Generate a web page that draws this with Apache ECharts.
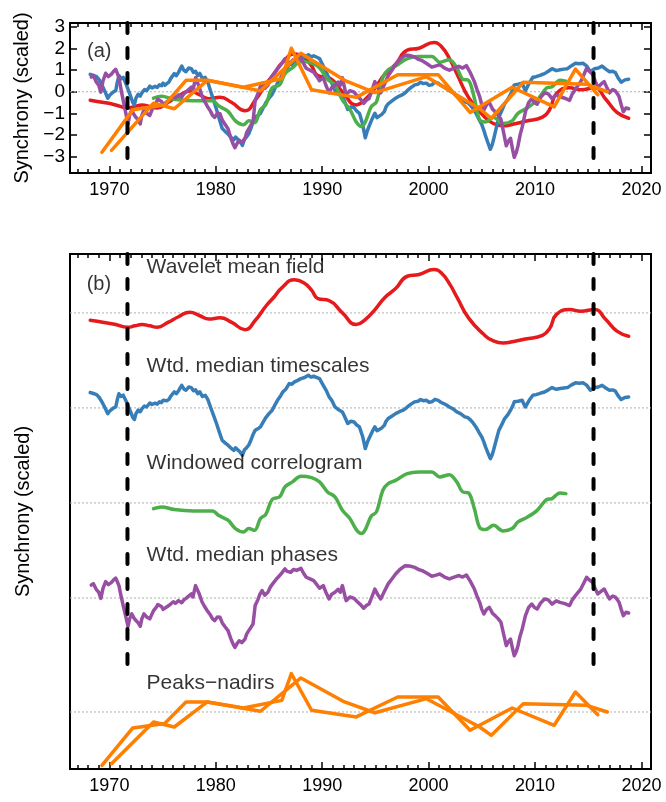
<!DOCTYPE html>
<html><head><meta charset="utf-8">
<script src="https://cdn.jsdelivr.net/npm/echarts@6/dist/echarts.min.js"></script>
<style>html,body{margin:0;padding:0;background:#fff}#c{width:666px;height:802px}</style>
</head><body><div id="c"></div>
<script>
// ---------------- data ----------------
const seriesNames = ['Wavelet mean field','Wtd. median timescales','Windowed correlogram','Wtd. median phases','Peaks\u2212nadirs'];
const xTickLabels = [1970,1980,1990,2000,2010,2020];
const yTickLabelsA = [-3,-2,-1,0,1,2,3];
const refYears = [1971.7, 2015.5];

const redYears = [1968.2,1969.5,1970.5,1971.74,1972.4,1973.07,1973.8,1974.5,1975.5,1976.5,1977.56,1978.5,1979.35,1980.4,1981.5,1982.75,1983.7,1984.7,1985.5,1986.2,1987.4,1988.3,1989.0,1989.6,1990.65,1991.9,1993.2,1994.05,1995.0,1995.85,1996.9,1998.0,1999.1,2000.5,2001.2,2002.0,2002.7,2003.75,2005.2,2006.0,2007.0,2008.0,2009.1,2010.7,2011.4,2012.0,2013.25,2014.3,2015.6,2016.65,2017.7,2018.8];
const redValues = [-0.39,-0.5,-0.6,-0.75,-0.68,-0.61,-0.68,-0.75,-0.5,-0.2,0.04,-0.15,-0.32,-0.26,-0.5,-0.88,-0.4,0.35,0.85,1.32,1.75,1.58,1.2,0.75,0.65,0,-0.61,-0.35,0.2,0.79,1.28,1.93,2.02,2.28,2.1,1.5,0.79,-0.26,-1.14,-1.45,-1.58,-1.5,-1.37,-1.18,-0.8,-0.09,0.18,0.09,0.18,-0.35,-0.96,-1.23];

const blueYears = [1968.2,1968.5,1968.8,1969.05,1969.3,1969.55,1969.85,1970.05,1970.2,1970.4,1970.6,1970.75,1970.9,1971.1,1971.3,1971.45,1971.6,1971.8,1972.0,1972.2,1972.35,1972.5,1972.7,1972.9,1973.07,1973.3,1973.5,1973.8,1974.0,1974.3,1974.5,1974.7,1974.9,1975.05,1975.2,1975.4,1975.6,1975.76,1975.9,1976.1,1976.3,1976.5,1976.65,1976.8,1977.0,1977.2,1977.45,1977.7,1977.9,1978.1,1978.3,1978.5,1978.75,1979.0,1979.25,1979.5,1979.8,1980.07,1980.35,1980.6,1980.9,1981.15,1981.4,1981.7,1981.85,1982.0,1982.25,1982.5,1982.7,1982.9,1983.1,1983.3,1983.5,1983.7,1983.95,1984.2,1984.45,1984.7,1985.0,1985.3,1985.55,1985.8,1986.05,1986.3,1986.6,1986.9,1987.15,1987.4,1987.7,1988.0,1988.35,1988.7,1988.95,1989.2,1989.5,1989.75,1990.1,1990.4,1990.65,1990.9,1991.2,1991.55,1991.9,1992.15,1992.4,1992.7,1993.0,1993.25,1993.5,1993.8,1994.05,1994.25,1994.4,1994.7,1994.95,1995.15,1995.3,1995.6,1995.85,1996.0,1996.2,1996.5,1996.9,1997.25,1997.6,1997.8,1998.0,1998.35,1998.7,1999.0,1999.25,1999.5,1999.8,2000.05,2000.3,2000.6,2000.9,2001.15,2001.4,2001.7,2001.95,2002.3,2002.65,2003.0,2003.4,2003.65,2003.9,2004.2,2004.45,2004.75,2005.0,2005.2,2005.35,2005.6,2005.8,2005.95,2006.1,2006.35,2006.6,2006.9,2007.15,2007.45,2007.7,2007.9,2008.05,2008.4,2008.8,2008.95,2009.1,2009.45,2009.8,2010.1,2010.4,2010.65,2010.9,2011.25,2011.6,2012.0,2012.35,2012.7,2013.05,2013.4,2013.8,2014.15,2014.5,2014.85,2015.2,2015.4,2015.6,2015.95,2016.3,2016.65,2017.0,2017.3,2017.55,2017.8,2018.1,2018.45,2018.8];
const blueValues = [0.81,0.76,0.70,0.55,0.32,0.05,-0.30,-0.15,-0.21,0.0,0.05,0.45,0.75,0.6,0.67,0.5,0.32,0.05,-0.21,-0.5,-0.61,-0.3,-0.12,-0.2,-0.04,0.1,0.05,0.26,0.18,0.25,0.2,0.32,0.28,0.40,0.3,0.38,0.45,0.61,0.55,0.84,0.75,0.9,1.05,1.19,1.0,0.93,1.1,1.07,0.9,0.95,0.75,0.85,0.6,0.67,0.45,0.05,-0.4,-0.82,-1.3,-1.70,-1.85,-1.96,-2.1,-2.23,-2.1,-2.02,-2.3,-2.49,-2.2,-2.09,-1.95,-1.70,-1.4,-1.18,-1.1,-1.0,-0.75,-0.51,-0.3,-0.12,0.15,0.40,0.6,0.84,1.0,1.28,1.25,1.37,1.45,1.54,1.6,1.72,1.62,1.67,1.6,1.54,1.19,0.9,0.58,0.4,0.05,-0.1,-0.21,-0.5,-0.82,-0.7,-0.74,-0.9,-1.0,-1.5,-2.14,-1.8,-1.61,-1.25,-1.0,-1.2,-1.26,-1.05,-0.91,-0.7,-0.56,-0.45,-0.30,-0.2,-0.12,-0.05,0.05,0.2,0.32,0.35,0.44,0.38,0.40,0.3,0.32,0.45,0.40,0.3,0.23,0.15,0.05,-0.05,-0.21,-0.3,-0.47,-0.5,-0.61,-0.8,-1.0,-1.3,-1.53,-1.8,-2.05,-2.4,-2.67,-2.5,-2.23,-1.7,-1.18,-0.85,-0.56,-0.35,-0.12,0.1,0.32,0.35,0.40,0.2,0.05,0.4,0.67,0.7,0.75,0.8,0.84,0.95,1.07,0.98,1.02,1.05,1.07,1.2,1.32,1.3,1.32,1.2,0.93,1.0,1.07,1.1,1.19,1.05,0.93,0.95,0.89,0.65,0.44,0.55,0.58];

const greenYears = [1974.15,1974.9,1976.1,1977.9,1979.7,1980.25,1981.15,1981.85,1982.6,1983.1,1983.65,1984.2,1984.7,1985.3,1986.0,1986.5,1987.2,1988.0,1989.0,1989.75,1990.5,1991.2,1991.9,1992.6,1993.2,1993.7,1994.05,1994.6,1995.1,1995.7,1996.2,1996.9,1998.0,1999.1,2000.3,2001.05,2001.95,2002.65,2003.2,2003.75,2004.3,2004.8,2005.35,2006.1,2007.0,2007.85,2008.4,2009.3,2010.2,2011.1,2011.6,2012.35,2012.9];
const greenValues = [-0.30,-0.21,-0.35,-0.42,-0.42,-0.65,-0.91,-1.35,-1.53,-1.35,-1.44,-0.82,-0.60,0.18,0.32,0.84,1.11,1.40,1.33,1.11,0.58,0.32,-0.39,-0.82,-1.40,-1.61,-1.40,-0.70,-0.47,0.67,1.02,1.19,1.54,1.63,1.63,1.37,1.49,1.11,0.58,0.53,-0.30,-1.30,-1.40,-1.18,-1.47,-1.35,-1.0,-0.74,-0.39,0.18,0.23,0.53,0.49];

const purpleYears = [1968.3,1968.5,1968.75,1969.0,1969.2,1969.4,1969.65,1969.9,1970.2,1970.4,1970.6,1970.75,1970.9,1971.1,1971.3,1971.55,1971.75,1971.9,1972.1,1972.3,1972.5,1972.7,1972.9,1973.05,1973.25,1973.5,1973.65,1973.8,1974.0,1974.15,1974.4,1974.55,1974.7,1974.9,1975.05,1975.2,1975.45,1975.6,1975.76,1976.0,1976.2,1976.5,1976.8,1977.0,1977.2,1977.45,1977.7,1977.85,1978.1,1978.3,1978.45,1978.7,1978.95,1979.2,1979.5,1979.7,1979.9,1980.15,1980.4,1980.6,1980.85,1981.15,1981.45,1981.65,1981.8,1982.0,1982.2,1982.45,1982.75,1982.9,1983.1,1983.3,1983.5,1983.6,1983.7,1983.95,1984.15,1984.35,1984.6,1984.9,1985.15,1985.45,1985.7,1986.0,1986.25,1986.5,1986.7,1987.05,1987.3,1987.6,1988.0,1988.25,1988.5,1988.85,1989.2,1989.5,1989.75,1990.1,1990.35,1990.65,1990.9,1991.2,1991.5,1991.7,1991.9,1992.05,1992.25,1992.6,1993.0,1993.3,1993.6,1993.9,1994.15,1994.4,1994.7,1994.95,1995.2,1995.5,1995.85,1996.2,1996.55,1996.9,1997.3,1997.8,1998.2,1998.7,1999.05,1999.4,1999.85,2000.3,2000.7,2001.05,2001.5,2001.95,2002.4,2002.85,2003.2,2003.55,2003.9,2004.3,2004.55,2004.8,2005.0,2005.2,2005.45,2005.7,2006.0,2006.25,2006.55,2006.8,2007.05,2007.3,2007.5,2007.7,2007.9,2008.05,2008.25,2008.4,2008.6,2008.8,2009.1,2009.4,2009.7,2009.95,2010.2,2010.55,2010.9,2011.25,2011.6,2012.0,2012.35,2012.8,2013.25,2013.5,2013.8,2014.05,2014.3,2014.6,2014.85,2015.1,2015.4,2015.65,2015.9,2016.2,2016.5,2016.75,2017.0,2017.3,2017.55,2017.75,2017.9,2018.1,2018.3,2018.55,2018.8];
const purpleValues = [0.68,0.75,0.47,0.3,-0.02,0.5,0.86,0.7,0.82,0.95,1.04,0.85,0.65,0.1,-0.40,-1.0,-1.49,-1.1,-0.84,-1.05,-1.19,-1.3,-1.49,-1.1,-0.84,-1.0,-0.95,-1.1,-0.85,-0.67,-0.5,-0.35,-0.26,-0.45,-0.6,-0.67,-0.45,-0.5,-0.32,-0.2,-0.28,-0.14,-0.25,-0.1,-0.02,0.1,0.21,0.05,0.65,0.4,0.21,-0.2,-0.45,-0.67,-0.9,-1.1,-1.19,-1.0,-1.02,-1.3,-1.5,-1.72,-2.2,-2.45,-2.60,-2.4,-2.25,-2.35,-2.16,-1.9,-1.72,-1.55,-1.37,-0.9,-0.40,-0.1,0.2,0.39,0.15,0.30,0.6,0.82,1.0,1.18,1.35,1.53,1.4,1.35,1.5,1.45,1.56,1.3,1.09,1.0,0.91,0.7,0.51,0.65,0.3,-0.05,0.2,0.30,0.45,0.3,0.65,0.3,-0.14,0.05,-0.02,-0.2,-0.35,-0.54,-0.4,-0.32,0.1,0.47,0.2,-0.05,0.35,0.74,1.0,1.26,1.5,1.70,1.68,1.61,1.5,1.44,1.3,1.14,1.2,1.26,1.1,1.0,1.1,1.18,1.1,1.21,0.9,0.47,0.1,-0.23,-0.6,-0.84,-0.6,-0.49,-0.8,-0.93,-1.1,-1.28,-1.9,-2.51,-2.3,-2.16,-2.7,-3.04,-2.8,-2.51,-2.0,-1.63,-0.93,-0.5,-0.32,-0.5,-0.58,-0.25,-0.05,-0.1,-0.32,-0.15,-0.23,-0.3,-0.40,-0.1,0.12,0.3,0.47,0.8,1.09,0.95,0.82,0.5,0.21,0.35,0.47,0.2,-0.05,0.1,0.04,-0.1,-0.23,-0.6,-0.93,-0.75,-0.79];

const orangeAYears = [1969.3,1972.2,1975.2,1977.2,1979.2,1982.6,1986.2,1987.1,1989.0,1993.2,1997.1,2000.9,2003.9,2007.85,2011.8,2013.8,2015.9];
const orangeAValues = [-2.81,-0.84,-0.61,0.53,0.53,0.21,0.61,2.02,0.09,-0.26,0.79,0.79,-0.96,0.21,-0.70,1.05,-0.14];
const orangeBYears = [1970.2,1974.15,1976.1,1979.2,1984.2,1988.0,1992.1,1994.95,1999.8,2004.8,2005.9,2008.9,2014.85,2016.8];
const orangeBValues = [-2.72,-0.53,-0.79,0.53,0.04,1.79,0.53,-0.04,0.70,-0.79,-1.23,0.44,0.35,0.0];

// ---------------- layout / style ----------------
const colors = ['#E41A1C','#377EB8','#4DAF4A','#984EA3','#FF7F00'];
const offsetsB = [21,16,11,6,0];
const labelRiseB = [2.42,2.21,2.1,2.26,1.53];
const labelX = 1973.5;
const xMin = 1966.3, xMax = 2020.9;
const yMinA = -3.77, yMaxA = 3.19;
const yMinB = -3, yMaxB = 24.1;
const dashLowB = 2.3;
const FONT = 'Liberation Sans, Arial, sans-serif';

const minorYears = [];
for (let y = 1967; y <= 2020; y++) if (y % 10 !== 0) minorYears.push(y);

function xAxesFor(grid, labels) {
  const base = {gridIndex: grid, type: 'value', min: xMin, max: xMax,
    axisLine: {show: false, onZero: false}, splitLine: {show: false}};
  return [
    Object.assign({}, base, {position: 'bottom',
      axisTick: {show: true, inside: true, length: 7, customValues: xTickLabels, lineStyle: {color: '#000', width: 1.5}},
      axisLabel: {show: labels, customValues: xTickLabels, formatter: v => String(v), color: '#000', fontSize: 18, fontFamily: FONT, margin: 8}}),
    Object.assign({}, base, {position: 'bottom',
      axisTick: {show: true, inside: true, length: 4, customValues: minorYears, lineStyle: {color: '#000', width: 1.5}},
      axisLabel: {show: false}}),
    Object.assign({}, base, {position: 'top',
      axisTick: {show: true, inside: true, length: 7, customValues: xTickLabels, lineStyle: {color: '#000', width: 1.5}},
      axisLabel: {show: false}}),
    Object.assign({}, base, {position: 'top',
      axisTick: {show: true, inside: true, length: 4, customValues: minorYears, lineStyle: {color: '#000', width: 1.5}},
      axisLabel: {show: false}})
  ];
}

const minusFmt = v => (v < 0 ? '\u2212' + (-v) : String(v));

const yAxes = [
  {gridIndex: 0, type: 'value', min: yMinA, max: yMaxA, position: 'left',
   name: 'Synchrony (scaled)', nameLocation: 'middle', nameGap: 37,
   nameTextStyle: {fontSize: 20, color: '#000', fontFamily: FONT},
   axisLine: {show: false, onZero: false}, splitLine: {show: false},
   axisTick: {show: true, inside: true, length: 7, customValues: yTickLabelsA, lineStyle: {color: '#000', width: 1.5}},
   axisLabel: {customValues: yTickLabelsA, formatter: minusFmt, color: '#000', fontSize: 19, fontFamily: FONT, margin: 5}},
  {gridIndex: 0, type: 'value', min: yMinA, max: yMaxA, position: 'right',
   axisLine: {show: false, onZero: false}, splitLine: {show: false},
   axisTick: {show: true, inside: true, length: 7, customValues: yTickLabelsA, lineStyle: {color: '#000', width: 1.5}},
   axisLabel: {show: false}},
  {gridIndex: 1, type: 'value', min: yMinB, max: yMaxB, position: 'left',
   name: 'Synchrony (scaled)', nameLocation: 'middle', nameGap: 37,
   nameTextStyle: {fontSize: 20, color: '#000', fontFamily: FONT},
   axisLine: {show: false, onZero: false}, splitLine: {show: false}, axisTick: {show: false}, axisLabel: {show: false}}
];

const allSeries = [
  [redYears, redValues, true],
  [blueYears, blueValues, false],
  [greenYears, greenValues, 0.35],
  [purpleYears, purpleValues, false]
];

const series = [];
const dotted = {color: '#b0b0b0', width: 1, type: [2, 2]};

series.push({type: 'line', xAxisIndex: 0, yAxisIndex: 0, data: [[xMin, 0], [xMax, 0]], symbol: 'none',
  lineStyle: dotted, silent: true, z: 1});
offsetsB.forEach(o => series.push({type: 'line', xAxisIndex: 4, yAxisIndex: 2, data: [[xMin, o], [xMax, o]],
  symbol: 'none', lineStyle: dotted, silent: true, z: 1}));

function addLine(xi, yi, years, vals, off, color, smooth) {
  series.push({type: 'line', xAxisIndex: xi, yAxisIndex: yi, symbol: 'none', smooth: smooth,
    data: years.map((y, i) => [y, vals[i] + off]),
    lineStyle: {color: color, width: 3.5, join: 'round', cap: 'round'}, z: 3});
}
allSeries.forEach((s, k) => {
  addLine(0, 0, s[0], s[1], 0, colors[k], s[2]);
  addLine(4, 2, s[0], s[1], offsetsB[k], colors[k], s[2]);
});
addLine(0, 0, orangeAYears, orangeAValues, 0, colors[4], false);
addLine(0, 0, orangeBYears, orangeBValues, 0, colors[4], false);
addLine(4, 2, orangeAYears, orangeAValues, offsetsB[4], colors[4], false);
addLine(4, 2, orangeBYears, orangeBValues, offsetsB[4], colors[4], false);

const dashStyle = {color: '#000', width: 4, type: [10, 15], cap: 'round'};
refYears.forEach(x => {
  series.push({type: 'line', xAxisIndex: 0, yAxisIndex: 0, symbol: 'none', data: [[x, yMaxA], [x, yMinA]], lineStyle: dashStyle, z: 5, silent: true});
  series.push({type: 'line', xAxisIndex: 4, yAxisIndex: 2, symbol: 'none', data: [[x, yMaxB], [x, dashLowB]], lineStyle: dashStyle, z: 5, silent: true});
});

function textAt(xi, yi, x, y, txt, size) {
  series.push({type: 'scatter', xAxisIndex: xi, yAxisIndex: yi, symbolSize: 0, data: [[x, y]], silent: true, z: 6,
    label: {show: true, position: 'right', distance: 0, formatter: txt, color: '#000', fontSize: size, fontFamily: FONT}});
}
seriesNames.forEach((n, k) => textAt(4, 2, labelX, offsetsB[k] + labelRiseB[k], n, 21));
textAt(0, 0, 1967.9, 1.89, '(a)', 20);
textAt(4, 2, 1967.87, 22.47, '(b)', 20);

const chart = echarts.init(document.getElementById('c'), null, {renderer: 'canvas'});
chart.setOption({
  animation: false,
  backgroundColor: '#fff',
  grid: [
    {left: 70, top: 23, width: 581, height: 150, show: true, borderColor: '#000', borderWidth: 2, backgroundColor: 'transparent'},
    {left: 70, top: 254, width: 581, height: 515, show: true, borderColor: '#000', borderWidth: 2, backgroundColor: 'transparent'}
  ],
  xAxis: xAxesFor(0, true).concat(xAxesFor(1, true)),
  yAxis: yAxes,
  series: series
});
</script>
</body></html>
